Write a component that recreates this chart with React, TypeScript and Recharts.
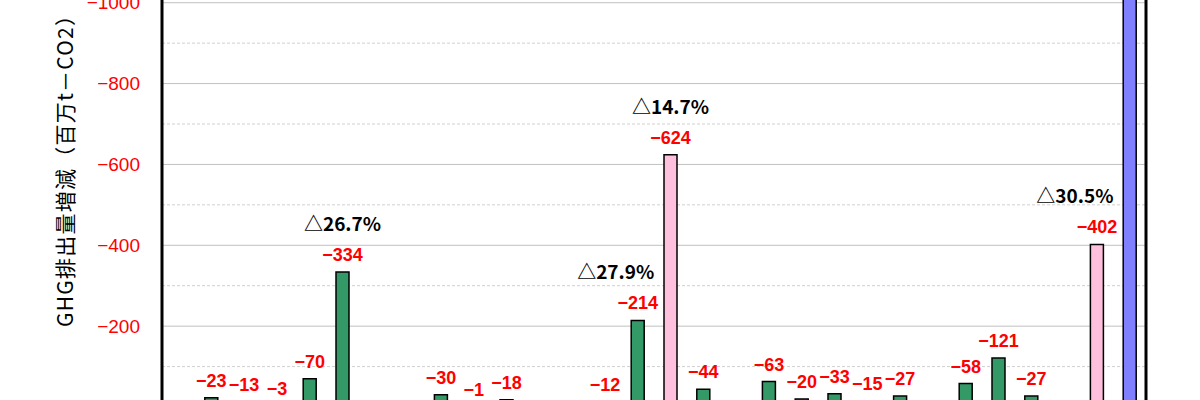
import React from 'react';
import { BarChart, Bar, XAxis, YAxis, CartesianGrid, Cell, LabelList } from 'recharts';

// category slots along the x axis (names sit below the visible area)
const categories = [
  '0', '1', '2', '3', '4', '5', '6', '7', '8', '9',
  '10', '11', '12', '13', '14', '15', '16', '17', '18', '19',
  '20', '21', '22', '23', '24', '25', '26', '27', '28', '29',
];

// GHG change, million t-CO2 (null = empty slot)
const values: (number | null)[] = [
  null, -23, -13, -3, -70, -334, null, null, -30, -1,
  -18, null, null, -12, -214, -624, -44, null, -63, -20,
  -33, -15, -27, null, -58, -121, -27, null, -402, -1250,
];

// g = item, p = subtotal, b = total
const kinds = [
  'g', 'g', 'g', 'g', 'g', 'g', 'g', 'g', 'g', 'g',
  'g', 'g', 'g', 'g', 'g', 'p', 'g', 'g', 'g', 'g',
  'g', 'g', 'g', 'g', 'g', 'g', 'g', 'g', 'p', 'b',
];

// reduction rates shown above some bars
const pcts: (number | null)[] = [
  null, null, null, null, null, 26.7, null, null, null, null,
  null, null, null, null, 27.9, 14.7, null, null, null, null,
  null, null, null, null, null, null, null, null, 30.5, null,
];

const yMin = -1400;
const majorTicks = [-1400, -1200, -1000, -800, -600, -400, -200, 0];
const minorTicks = [-1300, -1100, -900, -700, -500, -300, -100];

const colors: Record<string, string> = { g: '#339966', p: '#FFC0DE', b: '#8080FF' };

const data = categories.map((name, i) => ({
  name,
  v: values[i],
  pct: pcts[i],
  // rate label moves left when the next bar is taller
  nextTaller: Math.abs(values[i + 1] ?? 0) > Math.abs(values[i] ?? 0),
}));

const fmtNeg = (v: number) => (v === 0 ? '0' : '\u2212' + Math.abs(v));

const box = (p: any) => {
  const vb = p.viewBox || {};
  const x = p.x ?? vb.x;
  const y = p.y ?? vb.y;
  const w = p.width ?? vb.width;
  const h = p.height ?? vb.height;
  return { cx: x + w / 2, top: Math.min(y, y + h) };
};

const ValueLabel = (p: any) => {
  if (p.value == null) return null;
  const { cx, top } = box(p);
  return (
    <text x={cx} y={top - 11} textAnchor="middle" fill="#FF0000"
      fontFamily="'Liberation Sans', Arial, sans-serif" fontWeight="bold" fontSize={18}>
      {fmtNeg(p.value)}
    </text>
  );
};

const PctLabel = (p: any) => {
  const val = p.value;
  if (val == null || typeof val !== 'object' || val.pct == null) return null;
  const { cx, top } = box(p);
  const shift = val.nextTaller ? -22 : 0;
  return (
    <text x={cx + shift} y={top - 41} textAnchor="middle" fill="#000"
      fontFamily="'Noto Sans CJK JP', sans-serif" fontWeight={700} fontSize={19}>
      {'\u25B3' + val.pct.toFixed(1) + '%'}
    </text>
  );
};

const AxisTitle = () => (
  <text x={64} y={345} textAnchor="middle" fill="#000" fontSize={21}
    fontFamily="'Noto Sans CJK JP', sans-serif" transform="rotate(-90, 64, 345)"
    dominantBaseline="central" textLength={322} lengthAdjust="spacing">
    GHG排出量増減（百万t－CO2）
  </text>
);

// dashed lines at the odd hundreds, mapped with the same (reversed) domain as the axis
const minorLines = ({ yAxis, offset }: any) =>
  minorTicks.map((t) =>
    yAxis && typeof yAxis.scale === 'function'
      ? yAxis.scale(t)
      : offset.top + ((t - yMin) / (0 - yMin)) * offset.height
  );
const rightEdge = ({ offset }: any) => [offset.left + offset.width];

export default function App() {
  return (
    <div style={{ position: 'absolute', left: 0, top: 0, width: 1200, height: 400, overflow: 'hidden', background: '#fff' }}>
      <div style={{ position: 'absolute', left: 0, top: -179 }}>
        <BarChart width={1200} height={606} data={data}
          margin={{ top: 20, right: 54, bottom: 20, left: 62 }}>
          <CartesianGrid vertical={false} stroke="#d0d0d0" strokeDasharray="3 2"
            horizontalCoordinatesGenerator={minorLines} />
          <CartesianGrid vertical={false} stroke="#c0c0c0" />
          <CartesianGrid horizontal={false} stroke="#000" strokeWidth={3}
            verticalCoordinatesGenerator={rightEdge} />
          <XAxis dataKey="name" hide />
          <YAxis reversed domain={[yMin, 0]} ticks={majorTicks} allowDataOverflow
            width={100} tickLine={false} tickSize={0} tickMargin={22}
            axisLine={{ stroke: '#000', strokeWidth: 3 }}
            tick={{ fill: '#FF0000', fontSize: 19, fontFamily: "'Liberation Sans', Arial, sans-serif" }}
            tickFormatter={fmtNeg}
            label={{ content: () => <AxisTitle /> }} />
          <Bar dataKey="v" barSize={13} stroke="#000" strokeWidth={1.5} isAnimationActive={false}>
            {data.map((d, i) => (
              <Cell key={d.name} fill={colors[kinds[i]]} />
            ))}
            <LabelList dataKey="v" content={ValueLabel} />
            <LabelList dataKey={(d: any) => (d.pct == null ? null : { pct: d.pct, nextTaller: d.nextTaller })}
              content={PctLabel} />
          </Bar>
        </BarChart>
      </div>
    </div>
  );
}
